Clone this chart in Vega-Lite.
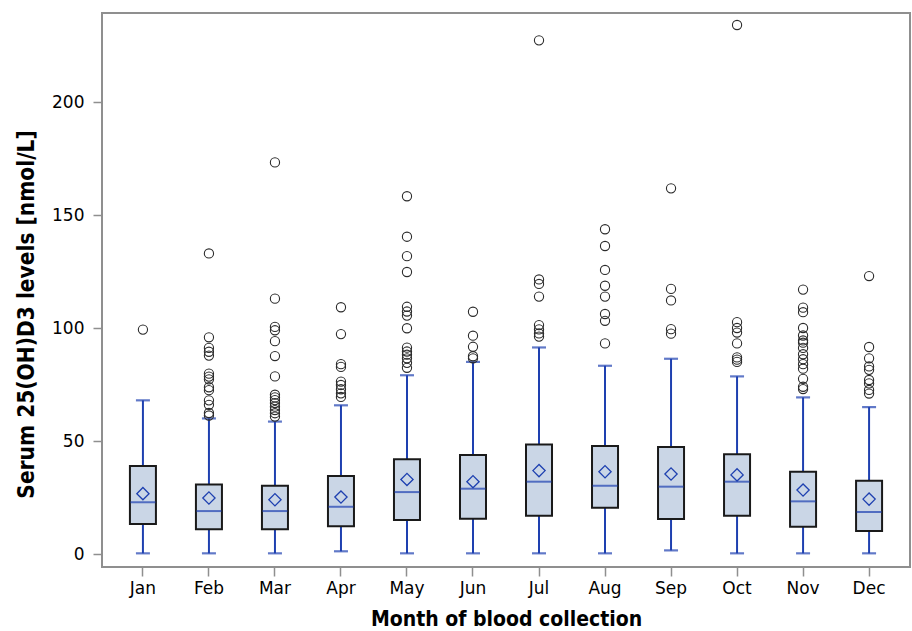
{
  "$schema": "https://vega.github.io/schema/vega-lite/v6.json",
  "width": 808,
  "height": 554,
  "autosize": {"type": "none"},
  "padding": {"left": 102, "top": 13, "right": 2, "bottom": 64},
  "background": "white",
  "config": {
    "view": {"stroke": "#8f8f8f", "strokeWidth": 2},
    "axis": {"grid": false, "domain": false, "tickColor": "#8f8f8f", "tickWidth": 1.5, "tickSize": 9,
      "labelFont": "DejaVu Sans", "labelFontSize": 17, "labelColor": "#000000",
      "titleFont": "DejaVu Sans Condensed, Liberation Sans Narrow, DejaVu Sans", "titleFontWeight": "bold", "titleColor": "#000000"}
  },
  "datasets": {
    "stats": [
      {"month": "Jan", "low": 0.3, "q1": 13.3, "median": 22.9, "q3": 38.9, "high": 68.0, "mean": 26.7},
      {"month": "Feb", "low": 0.3, "q1": 10.9, "median": 19.0, "q3": 30.8, "high": 60.0, "mean": 24.8},
      {"month": "Mar", "low": 0.3, "q1": 10.9, "median": 19.0, "q3": 30.2, "high": 58.6, "mean": 24.0},
      {"month": "Apr", "low": 1.2, "q1": 12.3, "median": 20.9, "q3": 34.5, "high": 65.8, "mean": 25.2},
      {"month": "May", "low": 0.3, "q1": 15.0, "median": 27.4, "q3": 41.9, "high": 79.1, "mean": 33.0},
      {"month": "Jun", "low": 0.3, "q1": 15.6, "median": 28.9, "q3": 43.8, "high": 85.0, "mean": 32.0},
      {"month": "Jul", "low": 0.3, "q1": 16.9, "median": 32.0, "q3": 48.5, "high": 91.4, "mean": 36.9},
      {"month": "Aug", "low": 0.3, "q1": 20.5, "median": 30.2, "q3": 47.8, "high": 83.3, "mean": 36.4},
      {"month": "Sep", "low": 1.6, "q1": 15.5, "median": 29.8, "q3": 47.3, "high": 86.4, "mean": 35.4},
      {"month": "Oct", "low": 0.3, "q1": 16.9, "median": 32.0, "q3": 44.1, "high": 78.6, "mean": 35.0},
      {"month": "Nov", "low": 0.3, "q1": 12.1, "median": 23.3, "q3": 36.4, "high": 69.3, "mean": 28.3},
      {"month": "Dec", "low": 0.3, "q1": 10.2, "median": 18.6, "q3": 32.4, "high": 65.0, "mean": 24.3}
    ],
    "outliers": [
      {"month": "Jan", "value": 99.3},
      {"month": "Feb", "value": 133.0}, {"month": "Feb", "value": 95.9}, {"month": "Feb", "value": 91.2}, {"month": "Feb", "value": 89.5}, {"month": "Feb", "value": 87.8}, {"month": "Feb", "value": 79.8}, {"month": "Feb", "value": 78.5}, {"month": "Feb", "value": 77.3}, {"month": "Feb", "value": 73.8}, {"month": "Feb", "value": 72.5}, {"month": "Feb", "value": 68.0}, {"month": "Feb", "value": 66.0}, {"month": "Feb", "value": 62.4}, {"month": "Feb", "value": 61.3},
      {"month": "Mar", "value": 173.3}, {"month": "Mar", "value": 113.0}, {"month": "Mar", "value": 100.5}, {"month": "Mar", "value": 99.0}, {"month": "Mar", "value": 94.2}, {"month": "Mar", "value": 87.6}, {"month": "Mar", "value": 78.6}, {"month": "Mar", "value": 70.5}, {"month": "Mar", "value": 69.3}, {"month": "Mar", "value": 68.1}, {"month": "Mar", "value": 66.8}, {"month": "Mar", "value": 65.2}, {"month": "Mar", "value": 63.7}, {"month": "Mar", "value": 62.3}, {"month": "Mar", "value": 60.8},
      {"month": "Apr", "value": 109.2}, {"month": "Apr", "value": 97.3}, {"month": "Apr", "value": 84.0}, {"month": "Apr", "value": 82.8}, {"month": "Apr", "value": 76.3}, {"month": "Apr", "value": 74.8}, {"month": "Apr", "value": 72.9}, {"month": "Apr", "value": 71.1}, {"month": "Apr", "value": 69.5},
      {"month": "May", "value": 158.3}, {"month": "May", "value": 140.4}, {"month": "May", "value": 131.8}, {"month": "May", "value": 124.8}, {"month": "May", "value": 109.4}, {"month": "May", "value": 107.3}, {"month": "May", "value": 105.5}, {"month": "May", "value": 99.9}, {"month": "May", "value": 91.3}, {"month": "May", "value": 89.6}, {"month": "May", "value": 88.2}, {"month": "May", "value": 86.6}, {"month": "May", "value": 84.6}, {"month": "May", "value": 82.4},
      {"month": "Jun", "value": 107.2}, {"month": "Jun", "value": 96.6}, {"month": "Jun", "value": 91.7}, {"month": "Jun", "value": 87.5}, {"month": "Jun", "value": 86.6},
      {"month": "Jul", "value": 227.3}, {"month": "Jul", "value": 121.5}, {"month": "Jul", "value": 119.5}, {"month": "Jul", "value": 113.9}, {"month": "Jul", "value": 101.3}, {"month": "Jul", "value": 99.4}, {"month": "Jul", "value": 97.6}, {"month": "Jul", "value": 96.2},
      {"month": "Aug", "value": 143.7}, {"month": "Aug", "value": 136.3}, {"month": "Aug", "value": 125.7}, {"month": "Aug", "value": 118.7}, {"month": "Aug", "value": 113.9}, {"month": "Aug", "value": 106.2}, {"month": "Aug", "value": 103.2}, {"month": "Aug", "value": 93.2},
      {"month": "Sep", "value": 161.8}, {"month": "Sep", "value": 117.3}, {"month": "Sep", "value": 112.2}, {"month": "Sep", "value": 99.5}, {"month": "Sep", "value": 97.5},
      {"month": "Oct", "value": 234.1}, {"month": "Oct", "value": 102.6}, {"month": "Oct", "value": 100.0}, {"month": "Oct", "value": 98.0}, {"month": "Oct", "value": 93.2}, {"month": "Oct", "value": 87.0}, {"month": "Oct", "value": 86.0}, {"month": "Oct", "value": 85.0},
      {"month": "Nov", "value": 117.0}, {"month": "Nov", "value": 109.0}, {"month": "Nov", "value": 107.0}, {"month": "Nov", "value": 100.0}, {"month": "Nov", "value": 96.7}, {"month": "Nov", "value": 94.5}, {"month": "Nov", "value": 93.5}, {"month": "Nov", "value": 91.2}, {"month": "Nov", "value": 88.4}, {"month": "Nov", "value": 86.2}, {"month": "Nov", "value": 84.0}, {"month": "Nov", "value": 82.0}, {"month": "Nov", "value": 77.5}, {"month": "Nov", "value": 74.0}, {"month": "Nov", "value": 73.0},
      {"month": "Dec", "value": 123.0}, {"month": "Dec", "value": 91.6}, {"month": "Dec", "value": 86.6}, {"month": "Dec", "value": 83.0}, {"month": "Dec", "value": 81.5}, {"month": "Dec", "value": 77.0}, {"month": "Dec", "value": 75.5}, {"month": "Dec", "value": 72.6}, {"month": "Dec", "value": 71.0}
    ]
  },
  "encoding": {
    "x": {"field": "month", "type": "nominal", "sort": ["Jan","Feb","Mar","Apr","May","Jun","Jul","Aug","Sep","Oct","Nov","Dec"],
      "scale": {"paddingInner": 0.606, "paddingOuter": 0.423},
      "axis": {"title": "Month of blood collection", "titleFontSize": 21, "labelAngle": 0, "labelPadding": 4, "titlePadding": 12}}
  },
  "layer": [
    {
      "data": {"name": "stats"},
      "mark": {"type": "rule", "color": "#1e40b0", "strokeWidth": 2},
      "encoding": {
        "y": {"field": "low", "type": "quantitative", "scale": {"domain": [-5.75, 239.4], "nice": false, "zero": false},
          "axis": {"title": "Serum 25(OH)D3 levels [nmol/L]", "titleFontSize": 22.5, "values": [0, 50, 100, 150, 200], "labelPadding": 9, "titlePadding": 13, "titleY": 301}},
        "y2": {"field": "high"}
      }
    },
    {
      "data": {"name": "stats"},
      "mark": {"type": "tick", "color": "#1e40b0", "size": 14, "thickness": 2.2},
      "encoding": {"y": {"field": "low", "type": "quantitative"}}
    },
    {
      "data": {"name": "stats"},
      "mark": {"type": "tick", "color": "#1e40b0", "size": 14, "thickness": 2.2},
      "encoding": {"y": {"field": "high", "type": "quantitative"}}
    },
    {
      "data": {"name": "stats"},
      "mark": {"type": "bar", "fill": "#cad6e6", "stroke": "#1a1a1a", "strokeWidth": 2},
      "encoding": {"y": {"field": "q1", "type": "quantitative"}, "y2": {"field": "q3"}}
    },
    {
      "data": {"name": "stats"},
      "mark": {"type": "tick", "color": "#1e40b0", "size": 25, "thickness": 2},
      "encoding": {"y": {"field": "median", "type": "quantitative"}}
    },
    {
      "data": {"name": "stats"},
      "mark": {"type": "point", "shape": "diamond", "size": 150, "filled": false, "stroke": "#1e40b0", "strokeWidth": 1.3, "opacity": 1},
      "encoding": {"y": {"field": "mean", "type": "quantitative"}}
    },
    {
      "data": {"name": "outliers"},
      "mark": {"type": "point", "shape": "circle", "size": 85, "filled": false, "stroke": "#2b2b2b", "strokeWidth": 1.1, "opacity": 1},
      "encoding": {"y": {"field": "value", "type": "quantitative"}}
    }
  ]
}
